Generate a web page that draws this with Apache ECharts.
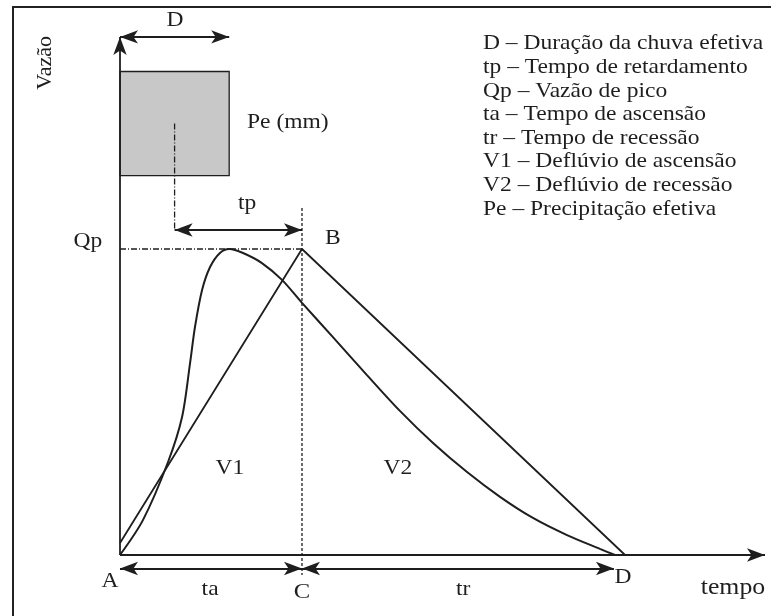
<!DOCTYPE html>
<html>
<head>
<meta charset="utf-8">
<title>Hidrograma</title>
<script src="https://cdn.jsdelivr.net/npm/echarts@6/dist/echarts.min.js"></script>
<style>
html,body{margin:0;padding:0;background:#fff;}
#main{width:771px;height:616px;}
</style>
</head>
<body>
<div id="main"></div>
<script>
const tempo = [0, 1.26, 2.64, 3.41, 3.85, 4.12, 4.51, 4.95, 5.49, 6.0, 6.76, 7.8, 8.9, 10.0, 11.7, 13.57, 15.38, 17.2, 19.07, 20.88, 22.69, 24.56, 26.37, 27.2]
const vazao = [0, 1.14, 3.04, 4.51, 6.27, 7.45, 8.66, 9.41, 9.87, 10, 9.87, 9.54, 8.99, 8.24, 7.12, 5.88, 4.71, 3.66, 2.71, 1.9, 1.21, 0.65, 0.2, 0]
// hidrograma triangular A - B - D
const triTempo = [0, 10, 27.75]
const triVazao = [0.39, 10, 0]
// chuva efetiva (bloco Pe)
const chuvaTempo = [0, 6]
const chuvaAltura = [12.4, 15.8]
// marcos
const Qp = 10
const tC = 10
const tD = 27.14
const durD = 6
const topoY = 16.93
const fimX = 35.44
const cotaY = -0.44

const legenda = [
    'D – Duração da chuva efetiva',
    'tp – Tempo de retardamento',
    'Qp – Vazão de pico',
    'ta – Tempo de ascensão',
    'tr – Tempo de recessão',
    'V1 – Deflúvio de ascensão',
    'V2 – Deflúvio de recessão',
    'Pe – Precipitação efetiva'
]
// rotulos: texto, tempo, vazao, tamanho
const rotulos = [
    ['D', 3.02, 17.48, 21],
    ['tp', 6.98, 11.5, 21],
    ['Qp', -1.76, 10.23, 21],
    ['B', 11.7, 10.33, 21],
    ['V1', 6.04, 2.84, 21],
    ['V2', 15.27, 2.84, 21],
    ['A', -0.55, -0.88, 21],
    ['ta', 4.95, -1.14, 21],
    ['C', 10, -1.21, 22],
    ['tr', 18.85, -1.14, 21],
    ['D', 27.64, -0.75, 21],
    ['tempo', 33.68, -1.08, 23]
]

const cor = '#1e1e1e'
const fonte = '"Liberation Serif", "Times New Roman", serif'

function seta(de, ate, dupla) {
    return {
        type: 'lines',
        coordinateSystem: 'cartesian2d',
        symbol: [dupla ? 'arrow' : 'none', 'arrow'],
        symbolSize: [[10, 18], [10, 18]],
        lineStyle: {color: cor, width: 1.8, opacity: 1, curveness: 0},
        silent: true,
        data: [{coords: [de, ate]}]
    }
}
function tracejado(de, ate, tipo) {
    return {
        type: 'line',
        data: [de, ate],
        symbol: 'none',
        lineStyle: {color: cor, width: 1.3, type: tipo},
        silent: true
    }
}

const chart = echarts.init(document.getElementById('main'))
const option = {
    animation: false,
    grid: {left: 0, right: 0, top: 0, bottom: 0},
    xAxis: {type: 'value', min: -6.593, max: 35.77, show: false},
    yAxis: {type: 'value', min: -1.993, max: 18.137, show: false},
    series: [
        {
            type: 'custom',
            renderItem: function (params, api) {
                var p0 = api.coord([api.value(0), api.value(3)])
                var p1 = api.coord([api.value(2), api.value(1)])
                return {
                    type: 'rect',
                    shape: {x: p0[0], y: p0[1], width: p1[0] - p0[0], height: p1[1] - p0[1]},
                    style: {fill: '#c8c8c8', stroke: cor, lineWidth: 1.3}
                }
            },
            encode: {x: [0, 2], y: [1, 3]},
            data: [[chuvaTempo[0], chuvaAltura[0], chuvaTempo[1], chuvaAltura[1]]]
        },
        {
            type: 'line',
            smooth: 0.3,
            symbol: 'none',
            lineStyle: {color: cor, width: 2},
            data: tempo.map((t, i) => [t, vazao[i]])
        },
        {
            type: 'line',
            symbol: 'none',
            lineStyle: {color: cor, width: 1.8},
            data: triTempo.map((t, i) => [t, triVazao[i]])
        },
        tracejado([durD / 2, 14.1], [durD / 2, 10.62], [6, 2, 1, 2]),
        tracejado([0, Qp], [tC, Qp], [6, 2, 1, 2]),
        tracejado([tC, 11.34], [tC, -0.65], [3, 2]),
        seta([0, 0], [0, topoY], false),
        seta([0, 0], [fimX, 0], false),
        seta([0, topoY], [durD, topoY], true),
        seta([durD / 2, 10.62], [tC, 10.62], true),
        seta([0, cotaY], [tC, cotaY], true),
        seta([tC, cotaY], [tD, cotaY], true)
    ]
}
chart.setOption(option)

// textos posicionados pelas coordenadas do grafico
let graficos = [{
    type: 'rect',
    shape: {x: 13, y: 7, width: 800, height: 700},
    style: {fill: 'none', stroke: '#222', lineWidth: 2},
    silent: true
}]
rotulos.forEach(function (r) {
    let p = chart.convertToPixel({gridIndex: 0}, [r[1], r[2]])
    graficos.push({
        type: 'text', x: p[0], y: p[1], scaleX: 1.12,
        style: {text: r[0], font: r[3] + 'px ' + fonte, fill: cor, align: 'center', verticalAlign: 'middle'}
    })
})
let pPe = chart.convertToPixel({gridIndex: 0}, [6.98, 14.12])
graficos.push({
    type: 'text', x: pPe[0], y: pPe[1], scaleX: 1.12,
    style: {text: 'Pe (mm)', font: '21px ' + fonte, fill: cor, align: 'left', verticalAlign: 'middle'}
})
let pVz = chart.convertToPixel({gridIndex: 0}, [-4.12, 16.08])
graficos.push({
    type: 'text', x: pVz[0], y: pVz[1], rotation: Math.PI / 2,
    style: {text: 'Vazão', font: '22px ' + fonte, fill: cor, align: 'center', verticalAlign: 'middle'}
})
graficos.push({
    type: 'text', x: 483, y: 32, scaleX: 1.12,
    style: {text: legenda.join('\n'), font: '21px ' + fonte, lineHeight: 23.6, fill: cor, align: 'left', verticalAlign: 'top'}
})
chart.setOption({graphic: graficos})
</script>
</body>
</html>
